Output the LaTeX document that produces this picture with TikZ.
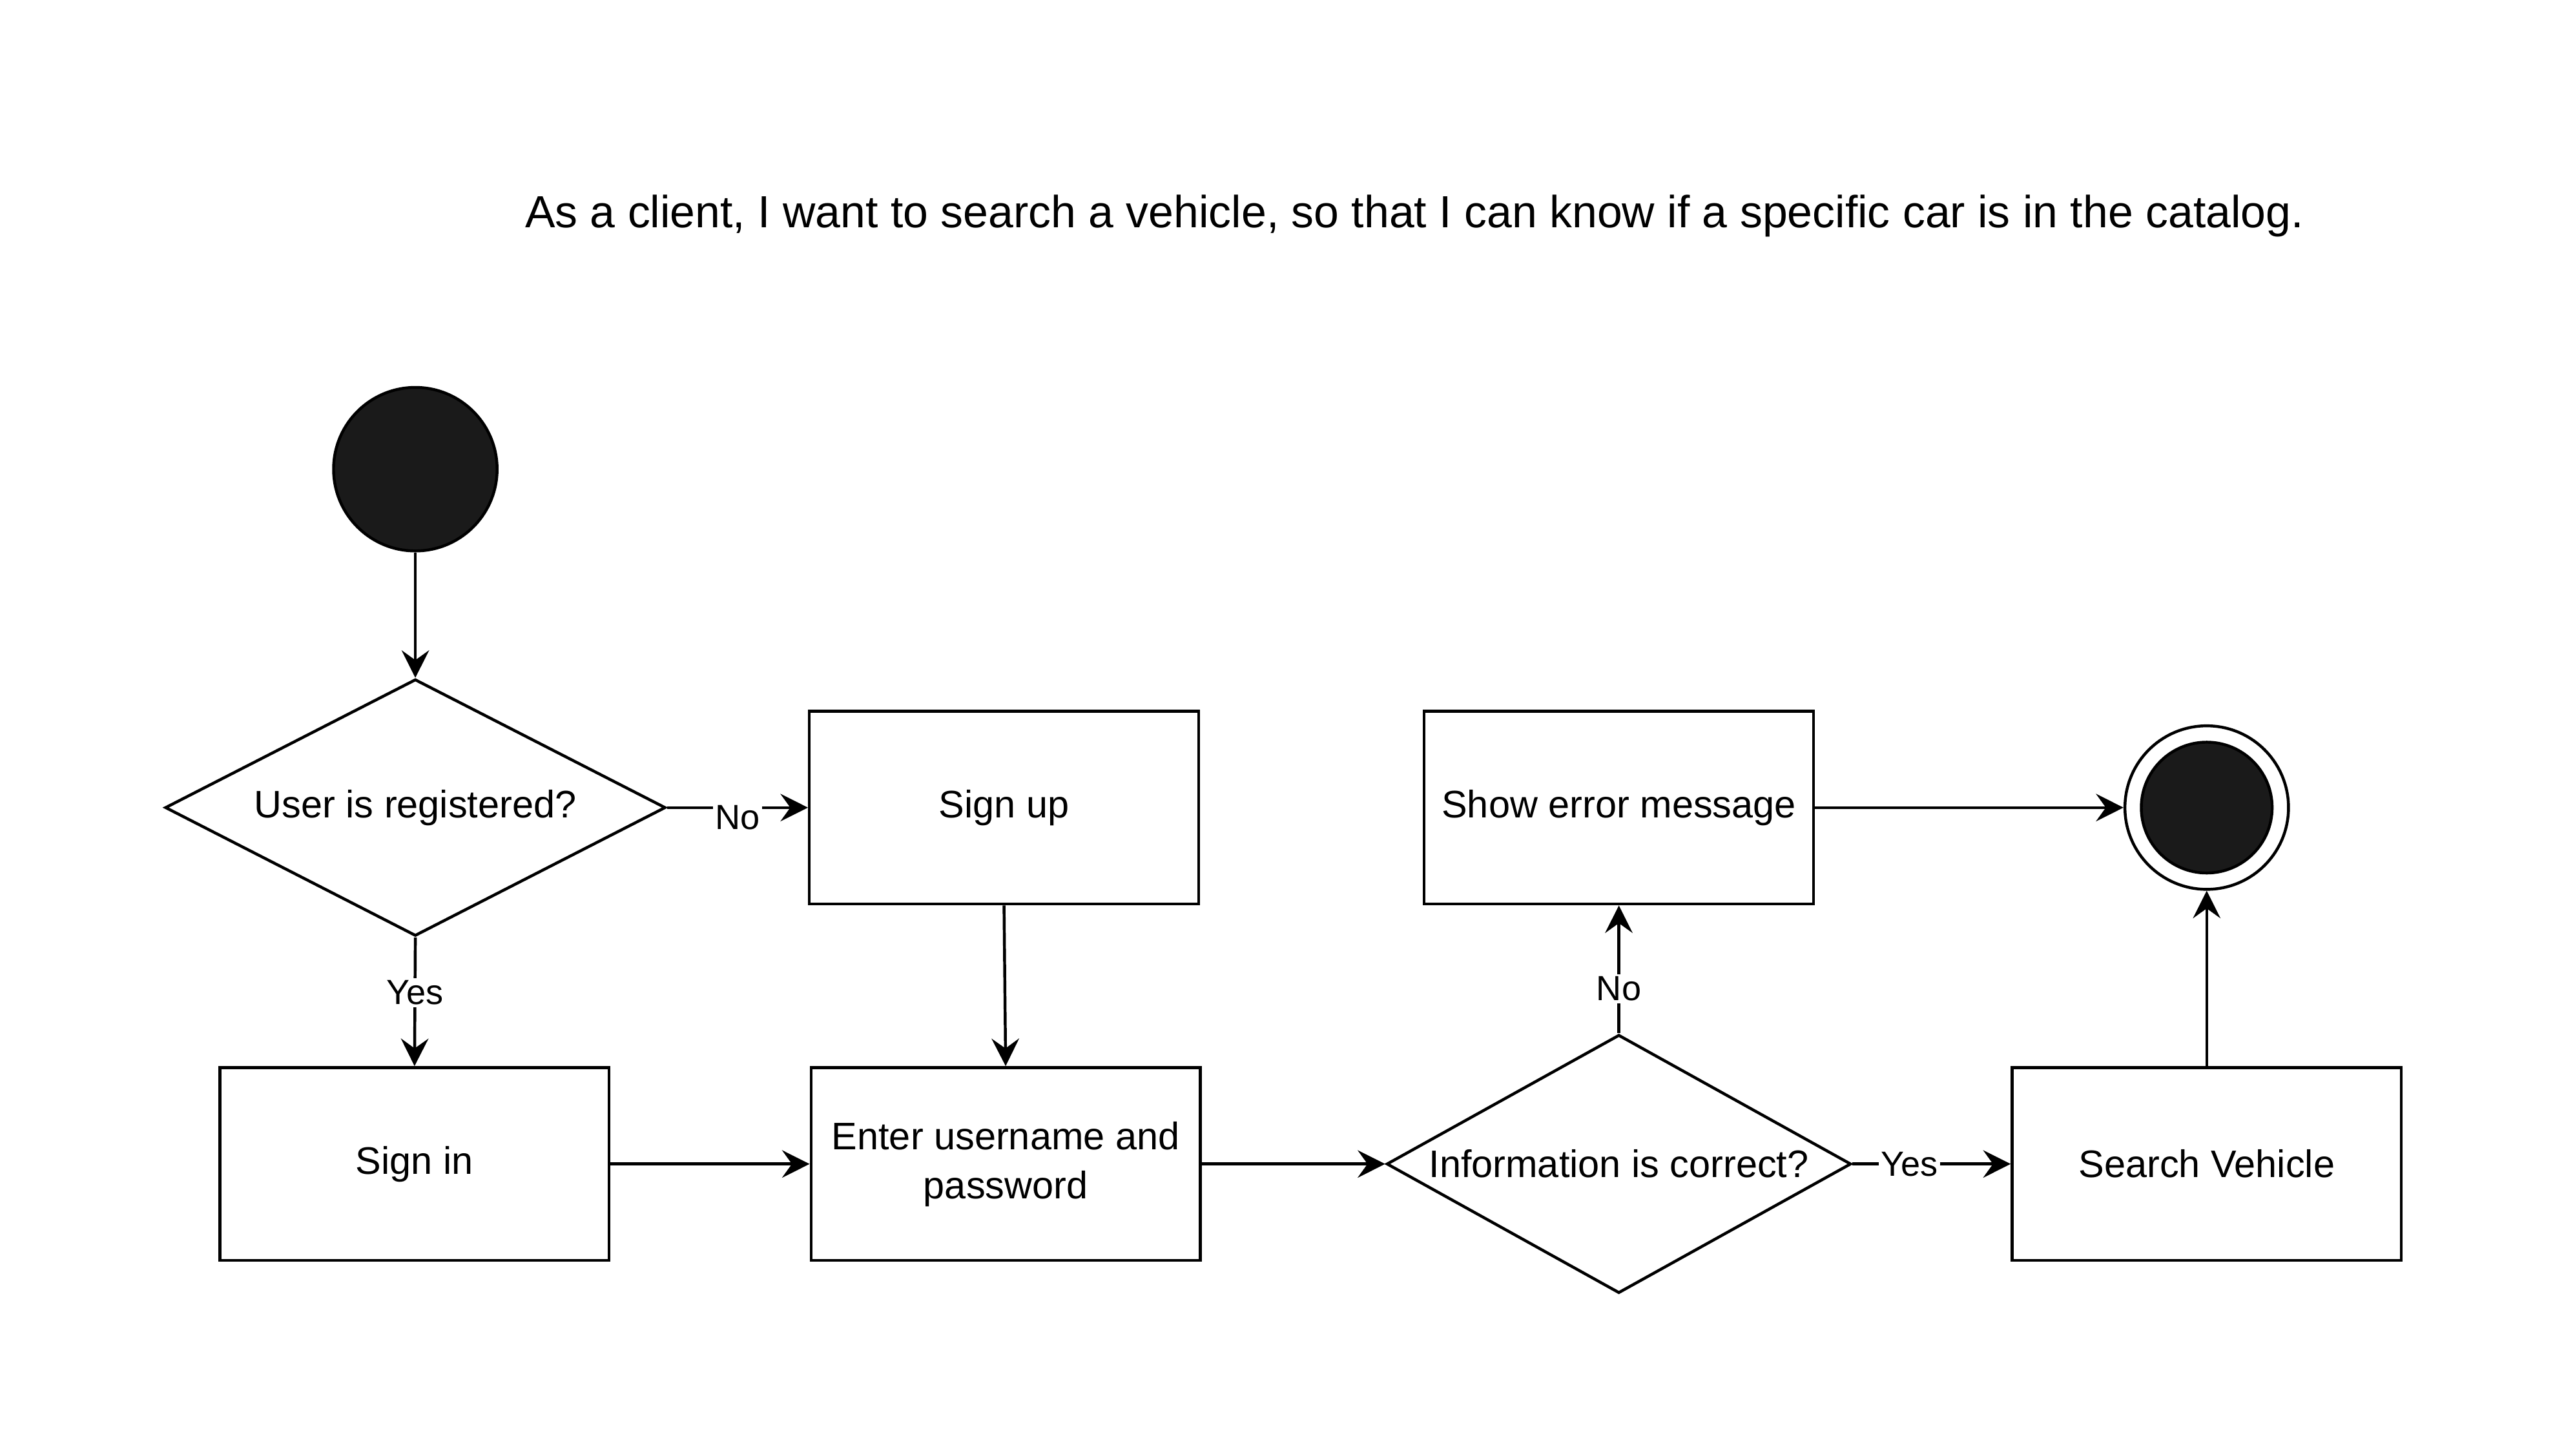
\documentclass[tikz,border=0pt]{standalone}
\usepackage{fontspec}
\setmainfont{Liberation Sans}
\usetikzlibrary{positioning,arrows.meta,shapes.geometric}
\definecolor{statefill}{RGB}{26,26,26}

\begin{document}
\begin{tikzpicture}[
    x=0.025cm, y=-0.025cm,
    box/.style={draw, line width=1.25pt, minimum width=5.95cm, minimum height=2.95cm, align=center, font=\fontsize{16.7}{21.3}\selectfont},
    decision/.style={draw, diamond, line width=1.25pt, inner sep=0pt, font=\fontsize{16.7}{21.3}\selectfont},
    state/.style={circle, draw, line width=1.25pt, fill=statefill, inner sep=0pt},
    flow/.style={-{Stealth[length=0.42cm, width=0.42cm, inset=0.15cm]}, line width=1.25pt},
    lbl/.style={fill=white, inner sep=1pt, font=\fontsize{15.2}{18}\selectfont},
]
    \fill[white] (0,0) rectangle (1568,890.6);
    \useasboundingbox (0,0) rectangle (1568,890.6);

    \node[font=\fontsize{19.6}{24}\selectfont] (story) at (865,132) {As a client, I want to search a vehicle, so that I can know if a specific car is in the catalog.};

    \node[state, minimum size=2.5cm] (start) at (254,287) {};
    \node[decision, minimum width=7.65cm, minimum height=3.925cm, aspect=1.95] (registered) at (254,494) {User is registered?};
    \node[box] (signup) at (614,494) {Sign up};
    \node[box] (signin) at (253.5,712) {Sign in};
    \node[box] (credentials) at (615,712) {Enter username and\\password};
    \node[decision, minimum width=7.1cm, minimum height=3.95cm, aspect=1.8] (correct) at (990,712) {Information is correct?};
    \node[box] (error) at (990,494) {Show error message};
    \node[box] (search) at (1349.5,712) {Search Vehicle};

    % final state
    \node[circle, draw, line width=1.25pt, fill=white, minimum size=2.5cm, inner sep=0pt] (end) at (1349.5,494) {};
    \node[state, minimum size=2cm] (endcore) at (end.center) {};

    \draw[flow] (start) -- (registered);
    \draw[flow] (registered.east) -- node[lbl, yshift=-0.15cm] {No} (signup.west);
    \draw[flow] (registered.south) -- node[lbl, pos=0.43] {Yes} (signin.north);
    \draw[flow] (signup.south) -- (credentials.north);
    \draw[flow] (signin.east) -- (credentials.west);
    \draw[flow] (credentials.east) -- (correct.west);
    \draw[flow] (correct.north) -- node[lbl, pos=0.35] {No} (error.south);
    \draw[flow] (correct.east) -- node[lbl, pos=0.36] {Yes} (search.west);
    \draw[flow] (error.east) -- (end.west);
    \draw[flow] (search.north) -- (end.south);
\end{tikzpicture}
\end{document}
